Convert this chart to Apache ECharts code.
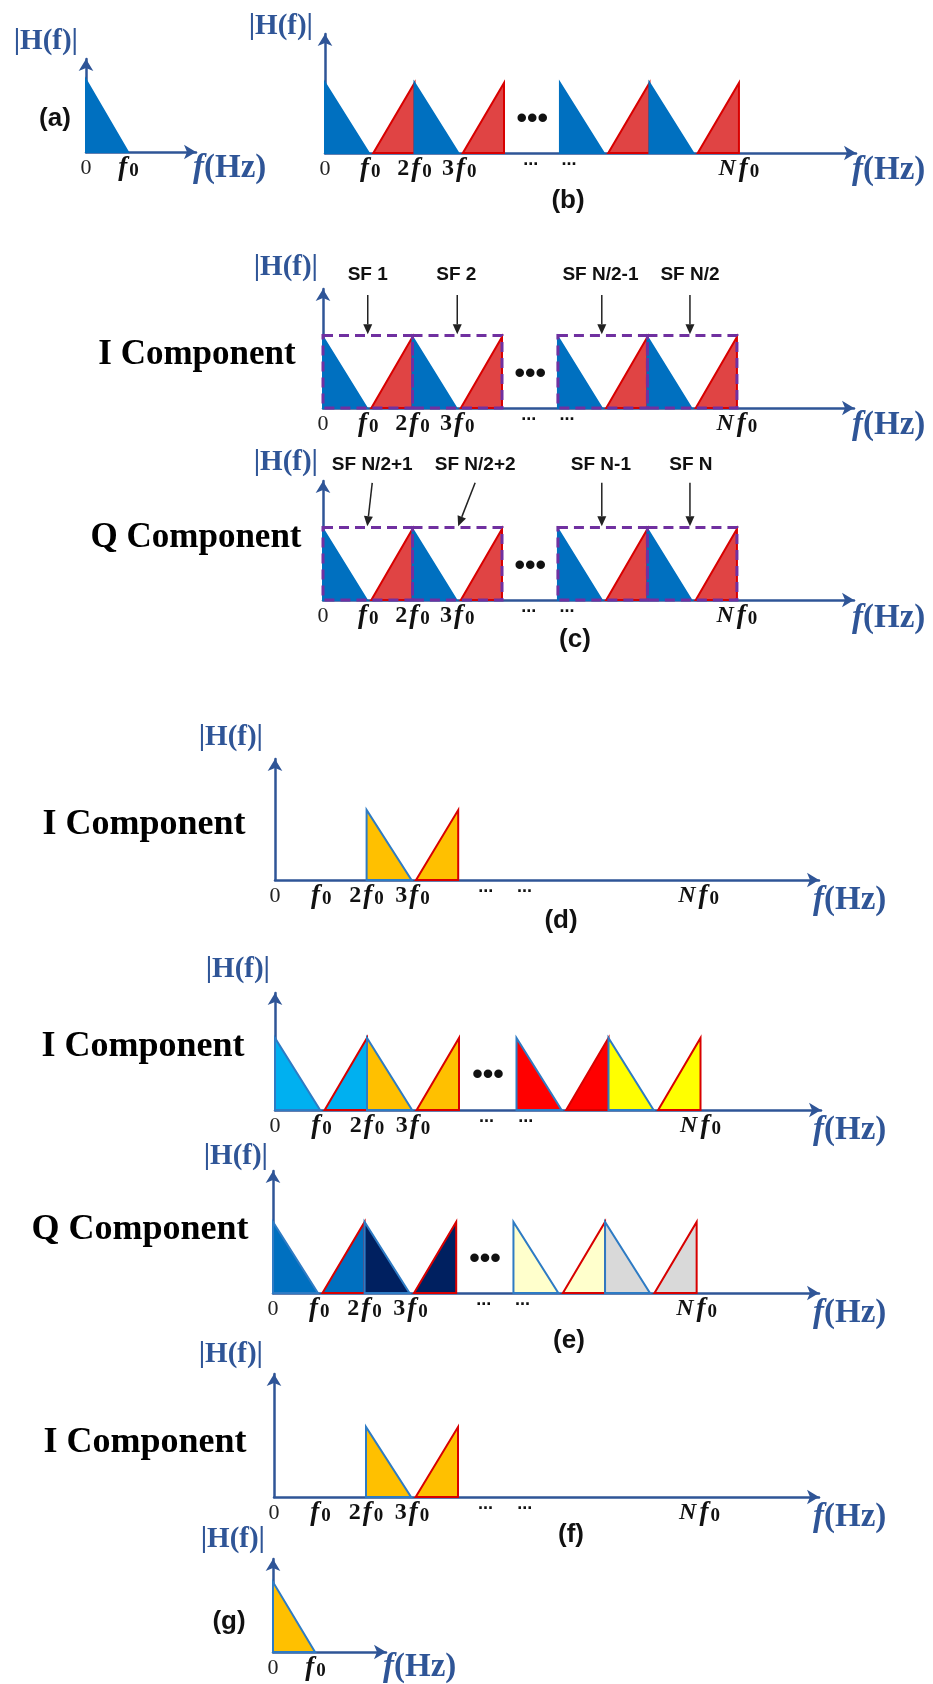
<!DOCTYPE html>
<html>
<head>
<meta charset="utf-8">
<script src="https://cdn.jsdelivr.net/npm/echarts@6/dist/echarts.min.js"></script>
<style>
  html, body { margin: 0; padding: 0; background: #fff; }
  #chart { width: 933px; height: 1684px; }
</style>
</head>
<body>
<div id="chart"></div>
<script>
// spectra, x in units of f0 : [start, end, peak position, peak height]
var combSpectrum = [
  [0, 0.98, 0, 1], [1.08, 2, 2, 1], [2, 2.98, 2, 1], [3.08, 4, 4, 1],
  [5.25, 6.23, 5.25, 1], [6.33, 7.25, 7.25, 1], [7.25, 8.23, 7.25, 1], [8.33, 9.25, 9.25, 1]
];
var baseSpectrum = [[0, 1, 0, 1]];
var pairSpectrum = [[2, 2.98, 2, 1], [3.08, 4, 4, 1]];

// sub-frame boxes : [start, end, top]
var subframes = [[0, 2, 1.02], [2, 4, 1.02], [5.25, 7.25, 1.02], [7.25, 9.25, 1.02]];

// sub-frame pointers : [labelX, labelY, fromX, fromY, toX, toY]
var sfINames = ['SF 1', 'SF 2', 'SF N/2-1', 'SF N/2'];
var sfIArrows = [
  [1, 1.87, 1, 1.59, 1, 1.04], [2.98, 1.87, 3, 1.59, 3, 1.04],
  [6.2, 1.87, 6.23, 1.59, 6.23, 1.04], [8.2, 1.87, 8.2, 1.59, 8.2, 1.04]
];
var sfQNames = ['SF N/2+1', 'SF N/2+2', 'SF N-1', 'SF N'];
var sfQArrows = [
  [1.1, 1.9, 1.1, 1.65, 0.99, 1.04], [3.4, 1.9, 3.4, 1.65, 3.02, 1.04],
  [6.21, 1.9, 6.23, 1.65, 6.23, 1.04], [8.22, 1.9, 8.2, 1.65, 8.2, 1.04]
];

var gapDots = [[4.63, 0.47]];

var wideTicks = [0, 1, 2, 3, 4.6, 5.45, 9.25];
var wideTickLabels = ['0', 'f0', '2f0', '3f0', '...', '...', 'Nf0'];
var narrowTicks = [0, 1];
var narrowTickLabels = ['0', 'f0'];

var captions = ['(a)', '(b)', '(c)', '(d)', '(e)', '(f)', '(g)'];
var componentNames = ['I Component', 'Q Component', 'I Component', 'I Component', 'Q Component', 'I Component'];

// colours
var AXIS = '#2F5597';
var BLUE = '#0070C0', RED = '#E04444', RED_EDGE = '#D80000', BLUE_EDGE = '#2E7BC4';
var combFill = [BLUE, RED, BLUE, RED, BLUE, RED, BLUE, RED];
var combEdge = [BLUE, RED_EDGE, BLUE, RED_EDGE, BLUE, RED_EDGE, BLUE, RED_EDGE];
var altEdge = [BLUE_EDGE, RED_EDGE, BLUE_EDGE, RED_EDGE, BLUE_EDGE, RED_EDGE, BLUE_EDGE, RED_EDGE];
var eIFill = ['#00B0F0', '#00B0F0', '#FFC000', '#FFC000', '#FF0000', '#FF0000', '#FFFF00', '#FFFF00'];
var eQFill = ['#0070C0', '#0070C0', '#002060', '#002060', '#FFFFCC', '#FFFFCC', '#D9D9D9', '#D9D9D9'];
var pairFill = ['#FFC000', '#FFC000'];

var SERIF = '"Liberation Serif", "Times New Roman", serif';
var SANS = '"Liberation Sans", Arial, sans-serif';
var HALF = 6; // half of the arrow head length

// layout of each panel (pixels) : axis origin, arrow tips, px per f0 / per unit height
var panels = [
  {axisX: 86, baseY: 152, arrowTop: 53, arrowEnd: 202, ux: 42, uy: 72, yR: 8, yDy: 11, xDx: -9, xDy: 16,
    spec: baseSpectrum, fill: [BLUE], edge: [BLUE], ticks: narrowTicks, labels: narrowTickLabels},
  {axisX: 325, baseY: 153, arrowTop: 28, arrowEnd: 862, ux: 44.75, uy: 70, yR: 12, yDy: 1, xDx: -10, xDy: 17,
    spec: combSpectrum, fill: combFill, edge: combEdge, ticks: wideTicks, labels: wideTickLabels, dots: true},
  {axisX: 323, baseY: 408, arrowTop: 283, arrowEnd: 860, ux: 44.75, uy: 71, yR: 5, yDy: 15, xDx: -8, xDy: 17,
    spec: combSpectrum, fill: combFill, edge: combEdge, ticks: wideTicks, labels: wideTickLabels, dots: true,
    boxes: true, sfNames: sfINames, sfArrows: sfIArrows},
  {axisX: 323, baseY: 600, arrowTop: 475, arrowEnd: 860, ux: 44.75, uy: 71, yR: 5, yDy: 12, xDx: -8, xDy: 18,
    spec: combSpectrum, fill: combFill, edge: combEdge, ticks: wideTicks, labels: wideTickLabels, dots: true,
    boxes: true, sfNames: sfQNames, sfArrows: sfQArrows},
  {axisX: 275, baseY: 880, arrowTop: 753, arrowEnd: 825, ux: 45.8, uy: 70, yR: 12, yDy: 15, xDx: -12, xDy: 20,
    spec: pairSpectrum, fill: pairFill, edge: altEdge, ticks: wideTicks, labels: wideTickLabels},
  {axisX: 275, baseY: 1110, arrowTop: 987, arrowEnd: 827, ux: 46, uy: 72, yR: 5, yDy: 17, xDx: -14, xDy: 20,
    spec: combSpectrum, fill: eIFill, edge: altEdge, ticks: wideTicks, labels: wideTickLabels, dots: true},
  {axisX: 273, baseY: 1293, arrowTop: 1165, arrowEnd: 825, ux: 45.8, uy: 71, yR: 5, yDy: 8, xDx: -12, xDy: 20,
    spec: combSpectrum, fill: eQFill, edge: altEdge, ticks: wideTicks, labels: wideTickLabels, dots: true},
  {axisX: 274, baseY: 1497, arrowTop: 1368, arrowEnd: 825, ux: 46, uy: 70, yR: 11, yDy: 13, xDx: -12, xDy: 20,
    spec: pairSpectrum, fill: pairFill, edge: altEdge, ticks: wideTicks, labels: wideTickLabels},
  {axisX: 273, baseY: 1652, arrowTop: 1553, arrowEnd: 392, ux: 42, uy: 70, yR: 8, yDy: 13, xDx: -9, xDy: 15,
    spec: baseSpectrum, fill: ['#FFC000'], edge: [BLUE_EDGE], ticks: narrowTicks, labels: narrowTickLabels}
];

var captionPos = [[55, 119], [568, 201], [575, 640], [561, 921], [569, 1341], [571, 1535], [229, 1622]];
var componentPos = [[197, 355, 35], [196, 538, 35], [144, 825, 36], [143, 1047, 36], [140, 1230, 36], [145, 1443, 36]];

var tickRich = {
  z: {fontFamily: SERIF, fontSize: 22, lineHeight: 26, color: '#222'},
  n: {fontFamily: SERIF, fontWeight: 'bold', fontSize: 24, lineHeight: 26, color: '#111', padding: [0, 1, 0, 0]},
  N: {fontFamily: SERIF, fontWeight: 'bold', fontStyle: 'italic', fontSize: 24, lineHeight: 26, color: '#111', padding: [0, 2, 0, 0]},
  f: {fontFamily: SERIF, fontWeight: 'bold', fontStyle: 'italic', fontSize: 27, lineHeight: 26, color: '#111', padding: [0, 2, 0, 1]},
  s: {fontFamily: SERIF, fontWeight: 'bold', fontSize: 19, lineHeight: 22, verticalAlign: 'bottom', color: '#111'},
  d: {fontFamily: SANS, fontWeight: 'bold', fontSize: 18, lineHeight: 8, color: '#111'}
};

function richTick(s) {
  if (s === '0') return '{z|0}';
  if (s === '...') return '{d|...}';
  var m = s.match(/^(\d|N)?f0$/);
  if (m) {
    var pre = m[1] ? (m[1] === 'N' ? '{N|N}' : '{n|' + m[1] + '}') : '';
    return pre + '{f|f}{s|0}';
  }
  return s;
}

var grids = [], xAxes = [], yAxes = [], series = [];

panels.forEach(function (p, i) {
  var w = p.arrowEnd - HALF - p.axisX;
  var h = p.baseY - p.arrowTop - HALF;
  grids.push({left: p.axisX, top: p.arrowTop + HALF, width: w, height: h});
  xAxes.push({
    gridIndex: i, type: 'value', min: 0, max: w / p.ux,
    axisLine: {show: true, symbol: ['none', 'arrow'], symbolSize: [11, 12], lineStyle: {color: AXIS, width: 2.5}},
    axisTick: {show: false},
    splitLine: {show: false},
    axisLabel: {
      show: true, margin: 3, customValues: p.ticks, rich: tickRich,
      formatter: function (v) {
        for (var k = 0; k < p.ticks.length; k++) {
          if (Math.abs(p.ticks[k] - v) < 1e-6) return richTick(p.labels[k]);
        }
        return '';
      }
    },
    name: '{i|f}{r|(Hz)}', nameLocation: 'end', nameGap: p.xDx + HALF,
    nameTextStyle: {
      align: 'left', verticalAlign: 'middle', padding: [p.xDy * 2, 0, 0, 0],
      rich: {
        i: {fontFamily: SERIF, fontWeight: 'bold', fontStyle: 'italic', fontSize: 33, color: AXIS},
        r: {fontFamily: SERIF, fontWeight: 'bold', fontSize: 33, color: AXIS}
      }
    }
  });
  yAxes.push({
    gridIndex: i, type: 'value', min: 0, max: h / p.uy,
    axisLine: {show: true, symbol: ['none', 'arrow'], symbolSize: [11, 12], lineStyle: {color: AXIS, width: 2.5}},
    axisTick: {show: false},
    splitLine: {show: false},
    axisLabel: {show: false},
    name: '|H(f)|', nameLocation: 'end', nameGap: p.yDy + HALF,
    nameTextStyle: {
      fontFamily: SERIF, fontWeight: 'bold', fontSize: 29, color: AXIS,
      align: 'right', verticalAlign: 'middle', padding: [0, p.yR, 0, 0]
    }
  });

  // filled spectrum triangles
  series.push({
    type: 'custom', xAxisIndex: i, yAxisIndex: i, data: p.spec, z: 3, silent: true,
    renderItem: function (params, api) {
      var a = api.coord([api.value(0), 0]);
      var b = api.coord([api.value(1), 0]);
      var c = api.coord([api.value(2), api.value(3)]);
      return {
        type: 'polygon', shape: {points: [a, b, c]},
        style: {fill: p.fill[params.dataIndex], stroke: p.edge[params.dataIndex], lineWidth: 2}
      };
    }
  });

  if (p.dots) {
    series.push({
      type: 'custom', xAxisIndex: i, yAxisIndex: i, data: gapDots, z: 4, silent: true,
      renderItem: function (params, api) {
        var c = api.coord([api.value(0), api.value(1)]);
        return {
          type: 'text',
          style: {text: '•••', x: c[0], y: c[1], align: 'center', verticalAlign: 'middle',
            font: 'bold 30px ' + SANS, fill: '#111'}
        };
      }
    });
  }

  if (p.boxes) {
    series.push({
      type: 'custom', xAxisIndex: i, yAxisIndex: i, data: subframes, z: 5, silent: true,
      renderItem: function (params, api) {
        var a = api.coord([api.value(0), 0]);
        var b = api.coord([api.value(1), api.value(2)]);
        return {
          type: 'rect', shape: {x: a[0], y: b[1], width: b[0] - a[0], height: a[1] - b[1]},
          style: {fill: 'none', stroke: '#7030A0', lineWidth: 3, lineDash: [10, 6]}
        };
      }
    });
    series.push({
      type: 'custom', xAxisIndex: i, yAxisIndex: i, data: p.sfArrows, z: 6, silent: true,
      renderItem: function (params, api) {
        var l = api.coord([api.value(0), api.value(1)]);
        var s = api.coord([api.value(2), api.value(3)]);
        var e = api.coord([api.value(4), api.value(5)]);
        var dx = e[0] - s[0], dy = e[1] - s[1];
        var len = Math.sqrt(dx * dx + dy * dy);
        var ux = dx / len, uy = dy / len;
        var hl = 10, hw = 4.5;
        var bx = e[0] - ux * hl, by = e[1] - uy * hl;
        return {
          type: 'group',
          children: [
            {type: 'text', style: {text: p.sfNames[params.dataIndex], x: l[0], y: l[1], align: 'center',
              verticalAlign: 'middle', font: 'bold 19px ' + SANS, fill: '#111'}},
            {type: 'line', shape: {x1: s[0], y1: s[1], x2: bx, y2: by}, style: {stroke: '#222', lineWidth: 1.5}},
            {type: 'polygon', shape: {points: [[e[0], e[1]], [bx - uy * hw, by + ux * hw], [bx + uy * hw, by - ux * hw]]},
              style: {fill: '#222'}}
          ]
        };
      }
    });
  }
});

var graphics = [];
captions.forEach(function (t, k) {
  graphics.push({type: 'text', x: captionPos[k][0], y: captionPos[k][1], silent: true,
    style: {text: t, align: 'center', verticalAlign: 'middle', font: 'bold 26px ' + SANS, fill: '#111'}});
});
componentNames.forEach(function (t, k) {
  graphics.push({type: 'text', x: componentPos[k][0], y: componentPos[k][1], silent: true,
    style: {text: t, align: 'center', verticalAlign: 'middle', font: 'bold ' + componentPos[k][2] + 'px ' + SERIF, fill: '#000'}});
});

var option = {
  animation: false,
  backgroundColor: '#fff',
  grid: grids,
  xAxis: xAxes,
  yAxis: yAxes,
  series: series,
  graphic: graphics
};

var myChart = echarts.init(document.getElementById('chart'));
myChart.setOption(option);
</script>
</body>
</html>
